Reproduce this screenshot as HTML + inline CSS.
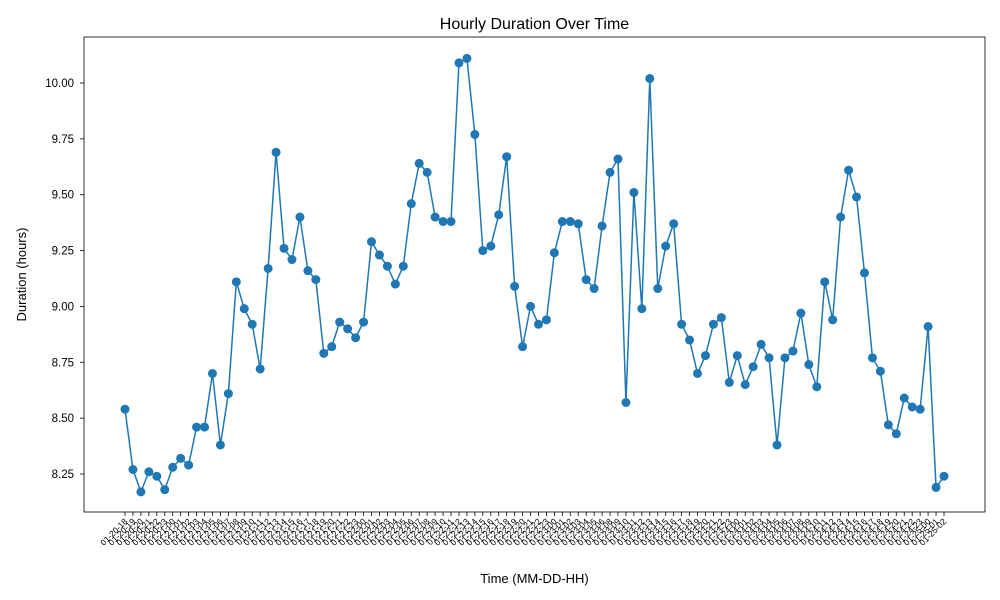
<!DOCTYPE html>
<html><head><meta charset="utf-8"><style>body{margin:0;background:#fff}svg{display:block}</style></head>
<body>
<svg id="chart" width="1000" height="600" xmlns="http://www.w3.org/2000/svg" font-family="Liberation Sans, DejaVu Sans, sans-serif"></svg>
<script>
const values = [8.54,8.27,8.17,8.26,8.24,8.18,8.28,8.32,8.29,8.46,8.46,8.70,8.38,8.61,9.11,8.99,8.92,8.72,9.17,9.69,9.26,9.21,9.40,9.16,9.12,8.79,8.82,8.93,8.90,8.86,8.93,9.29,9.23,9.18,9.10,9.18,9.46,9.64,9.60,9.40,9.38,9.38,10.09,10.11,9.77,9.25,9.27,9.41,9.67,9.09,8.82,9.00,8.92,8.94,9.24,9.38,9.38,9.37,9.12,9.08,9.36,9.60,9.66,8.57,9.51,8.99,10.02,9.08,9.27,9.37,8.92,8.85,8.70,8.78,8.92,8.95,8.66,8.78,8.65,8.73,8.83,8.77,8.38,8.77,8.80,8.97,8.74,8.64,9.11,8.94,9.40,9.61,9.49,9.15,8.77,8.71,8.47,8.43,8.59,8.55,8.54,8.91,8.19,8.24];
const yTicks = [8.25,8.50,8.75,9.00,9.25,9.50,9.75,10.00];
const categories = [];
(function(){let d=20,h=18;for(let i=0;i<values.length;i++){categories.push('01-'+String(d).padStart(2,'0')+'-'+String(h).padStart(2,'0'));h++;if(i===60)h++;if(h>=24){h-=24;d++;}}})();

const NS='http://www.w3.org/2000/svg';
const svg=document.getElementById('chart');
const L=84,R=985,T=37,B=512;
const x0=125,x1=944;
function xs(i){return x0+(x1-x0)*i/(values.length-1);}
function ys(v){return 83+(10-v)*(474-83)/1.75;}
function mk(tag,attrs,parent){const e=document.createElementNS(NS,tag);for(const k in attrs)e.setAttribute(k,attrs[k]);(parent||svg).appendChild(e);return e;}

const title=mk('text',{x:(L+R)/2,y:29,'text-anchor':'middle','font-size':16,fill:'#000'});
title.textContent='Hourly Duration Over Time';



const yg=mk('g',{});


yTicks.forEach(v=>{
  const y=ys(v);
  mk('line',{x1:L-4,x2:L,y1:y,y2:y,stroke:'#000','stroke-width':0.8},yg);
  const t=mk('text',{x:L-10,y:y+4,'text-anchor':'end','font-size':11.5,fill:'#000'},yg);
  t.textContent=v.toFixed(2);
  
  
});
const yt=mk('text',{x:26,y:(T+B)/2,'text-anchor':'middle','font-size':13,transform:`rotate(-90 26 ${(T+B)/2})`});
yt.textContent='Duration (hours)';



const xg=mk('g',{});


categories.forEach((c,i)=>{
  const x=xs(i);
  mk('line',{x1:x,x2:x,y1:B,y2:B+4,stroke:'#000','stroke-width':0.8},xg);
  const t=mk('text',{x:x+3,y:B+10,'text-anchor':'end','font-size':8.5,transform:`rotate(-45 ${x+3} ${B+10})`},xg);
  t.textContent=c;
  
  
});
const xt=mk('text',{x:(L+R)/2,y:583,'text-anchor':'middle','font-size':13});
xt.textContent='Time (MM-DD-HH)';



const line=mk('polyline',{points:values.map((v,i)=>xs(i)+','+ys(v)).join(' '),fill:'none',stroke:'#1f77b4','stroke-width':1.5});


values.forEach((v,i)=>{
  const c=mk('circle',{cx:xs(i),cy:ys(v),r:4.5,fill:'#1f77b4'});
  
  
});
const frame=mk('rect',{x:L,y:T,width:R-L,height:B-T,fill:'none',stroke:'#000','stroke-width':0.8});


</script>
</body></html>
